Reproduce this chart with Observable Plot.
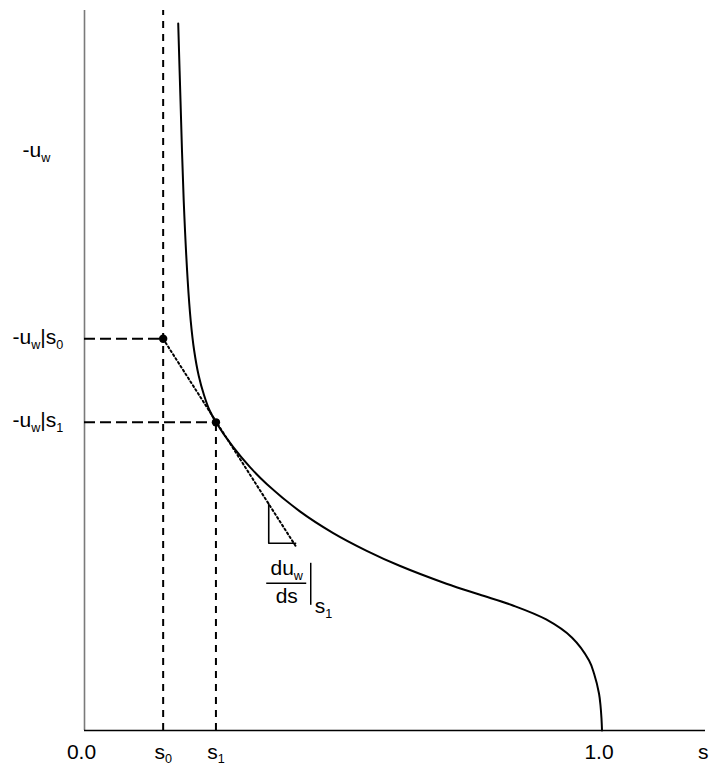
<!DOCTYPE html>
<html>
<head>
<meta charset="utf-8">
<script src="https://cdn.jsdelivr.net/npm/d3@7"></script>
<script src="https://cdn.jsdelivr.net/npm/@observablehq/plot@0.6"></script>
<style>
  body { margin: 0; background: #fff; }
  svg { display: block; }
</style>
</head>
<body>
<div id="chart"></div>
<script>
// ---- data ----
const S0 = 0.152, S1 = 0.254;          // saturations s0, s1
const U0 = 0.544, U1 = 0.428;          // -u_w at s0 and at s1
const X_MAX = 1.2;
const UW_LABEL_LEVEL = 0.803;

const curveS = [0.1811, 0.1855, 0.1917, 0.1994, 0.2052, 0.2119, 0.2206, 0.2312, 0.2418, 0.2543,
                0.2871, 0.3198, 0.3526, 0.4162, 0.4798, 0.5453, 0.6089, 0.6994, 0.7630, 0.8266,
                0.8921, 0.9422, 0.9750, 0.9846, 0.9942, 0.9971, 0.9990, 1.0000];
const curveU = [0.9819, 0.8750, 0.7361, 0.6250, 0.5694, 0.5278, 0.4931, 0.4653, 0.4444, 0.4278,
                0.3938, 0.3657, 0.3421, 0.3044, 0.2746, 0.2496, 0.2288, 0.2039, 0.1888, 0.1740,
                0.1542, 0.1289, 0.0972, 0.0792, 0.0514, 0.0347, 0.0167, 0.0000];

const tangentS = [S0, 0.410];
const tangentU = [U0, 0.254];

const triangleS = [0.356, 0.356, 0.408];
const triangleU = [0.315, 0.260, 0.260];

const xNumTicks = [0, 1];
const xNumLabels = ["0.0", "1.0"];
const xSymTicks = [S0, S1];
const xSymLabels = ["s_0", "s_1"];
const yTicks = [U0, U1];
const yLabels = ["-u_w|s_0", "-u_w|s_1"];
const yMainLabel = "-u_w";
const xAxisLabel = "s";
const slopeNum = "du_w", slopeDen = "ds", slopeAt = "s_1";

// ---- tables ----
const curve = curveS.map((s, i) => ({s, u: curveU[i]}));
const tangent = tangentS.map((s, i) => ({s, u: tangentU[i]}));
const triangle = triangleS.map((s, i) => ({s, u: triangleU[i]}));
const corner = [{s: triangleS[1], u: triangleU[1]}];
const points = [{s: S0, u: U0}, {s: S1, u: U1}];
const xNum = xNumTicks.map((v, i) => ({v, label: xNumLabels[i]}));
const xSym = xSymTicks.map((v, i) => ({v, label: xSymLabels[i]}));
const yLab = yTicks.map((v, i) => ({v, label: yLabels[i]}));

const FONT = "'Liberation Sans', Arial, Helvetica, sans-serif";
const FS = 21;
const dash = "7,6";

const plot = Plot.plot({
  width: 718,
  height: 773,
  marginLeft: 84,
  marginRight: 13,
  marginTop: 10,
  marginBottom: 43,
  x: {domain: [0, X_MAX], axis: null},
  y: {domain: [0, 1], axis: null},
  style: {fontFamily: FONT, background: "white", color: "black"},
  marks: [
    // axes
    Plot.ruleX([0], {y1: 0, y2: 1, stroke: "#7a7a7a", strokeWidth: 1.6}),
    Plot.ruleY([0], {x1: 0, x2: X_MAX, stroke: "black", strokeWidth: 1.5}),
    // dashed guides
    Plot.ruleX([S0], {y1: 0, y2: 1, stroke: "black", strokeWidth: 2, strokeDasharray: dash}),
    Plot.ruleX([S1], {y1: 0, y2: U1, stroke: "black", strokeWidth: 2, strokeDasharray: dash}),
    Plot.ruleY([U0], {x1: 0, x2: S0, stroke: "black", strokeWidth: 2, strokeDasharray: "11,5"}),
    Plot.ruleY([U1], {x1: 0, x2: S1, stroke: "black", strokeWidth: 2, strokeDasharray: "11,5"}),
    // curve
    Plot.line(curve, {x: "s", y: "u", curve: "catmull-rom", stroke: "black", strokeWidth: 2}),
    // tangent
    Plot.line(tangent, {x: "s", y: "u", stroke: "black", strokeWidth: 2, strokeDasharray: "1.8,2.8"}),
    // slope triangle
    Plot.line(triangle, {x: "s", y: "u", stroke: "black", strokeWidth: 1.6}),
    // points
    Plot.dot(points, {x: "s", y: "u", r: 4.2, fill: "black", stroke: "none"}),
    // x labels
    Plot.text(xNum, {x: "v", y: 0, text: "label", lineAnchor: "bottom", dy: 28, dx: -3, fontSize: FS, fill: "black"}),
    Plot.text(xSym, {x: "v", y: 0, text: "label", lineAnchor: "bottom", dy: 28, fontSize: FS, fill: "black"}),
    Plot.text([X_MAX], {x: d => d, y: 0, text: () => xAxisLabel, lineAnchor: "bottom", textAnchor: "end", dy: 28, dx: 3, fontSize: FS, fill: "black"}),
    // y labels
    Plot.text(yLab, {y: "v", text: "label", frameAnchor: "left", textAnchor: "start", lineAnchor: "bottom", dx: -72, dy: 5, fontSize: FS, fill: "black"}),
    Plot.text([UW_LABEL_LEVEL], {y: d => d, text: () => yMainLabel, frameAnchor: "left", textAnchor: "start", lineAnchor: "bottom", dx: -62, dy: 5, fontSize: FS, fill: "black"}),
    // slope label
    Plot.text(corner, {x: "s", y: "u", text: () => slopeNum, textAnchor: "middle", lineAnchor: "bottom", dx: 18, dy: 32, fontSize: FS, fill: "black"}),
    Plot.text(corner, {x: "s", y: "u", text: () => slopeDen, textAnchor: "middle", lineAnchor: "bottom", dx: 18, dy: 60, fontSize: FS, fill: "black"}),
    Plot.ruleY(corner, {y: "u", x1: "s", x2: "s", dx: 18, dy: 40, insetLeft: -20, insetRight: -20, stroke: "black", strokeWidth: 1.5}),
    Plot.ruleX(corner, {x: "s", y1: "u", y2: "u", dx: 42, dy: 41, insetTop: -21, insetBottom: -21, stroke: "black", strokeWidth: 1.5}),
    Plot.text(corner, {x: "s", y: "u", text: () => slopeAt, textAnchor: "start", lineAnchor: "bottom", dx: 46, dy: 70, fontSize: FS, fill: "black"})
  ]
});

// rich text: "_x" -> subscript x
function richText(root) {
  root.querySelectorAll("text").forEach(t => {
    const s = t.textContent;
    if (!s.includes("_")) return;
    const parts = [];
    for (let i = 0; i < s.length; i++) {
      if (s[i] === "_" && i + 1 < s.length) { parts.push({t: s[i + 1], sub: true}); i++; }
      else if (parts.length && !parts[parts.length - 1].sub) parts[parts.length - 1].t += s[i];
      else parts.push({t: s[i], sub: false});
    }
    t.textContent = "";
    let prevSub = false;
    for (const p of parts) {
      const ts = document.createElementNS("http://www.w3.org/2000/svg", "tspan");
      ts.textContent = p.t;
      if (p.sub) {
        ts.setAttribute("font-size", "60%");
        if (!prevSub) ts.setAttribute("dy", "0.38em");
      } else if (prevSub) {
        ts.setAttribute("dy", "-0.228em");
      }
      prevSub = p.sub;
      t.appendChild(ts);
    }
  });
}
richText(plot);
document.getElementById("chart").appendChild(plot);
</script>
</body>
</html>
